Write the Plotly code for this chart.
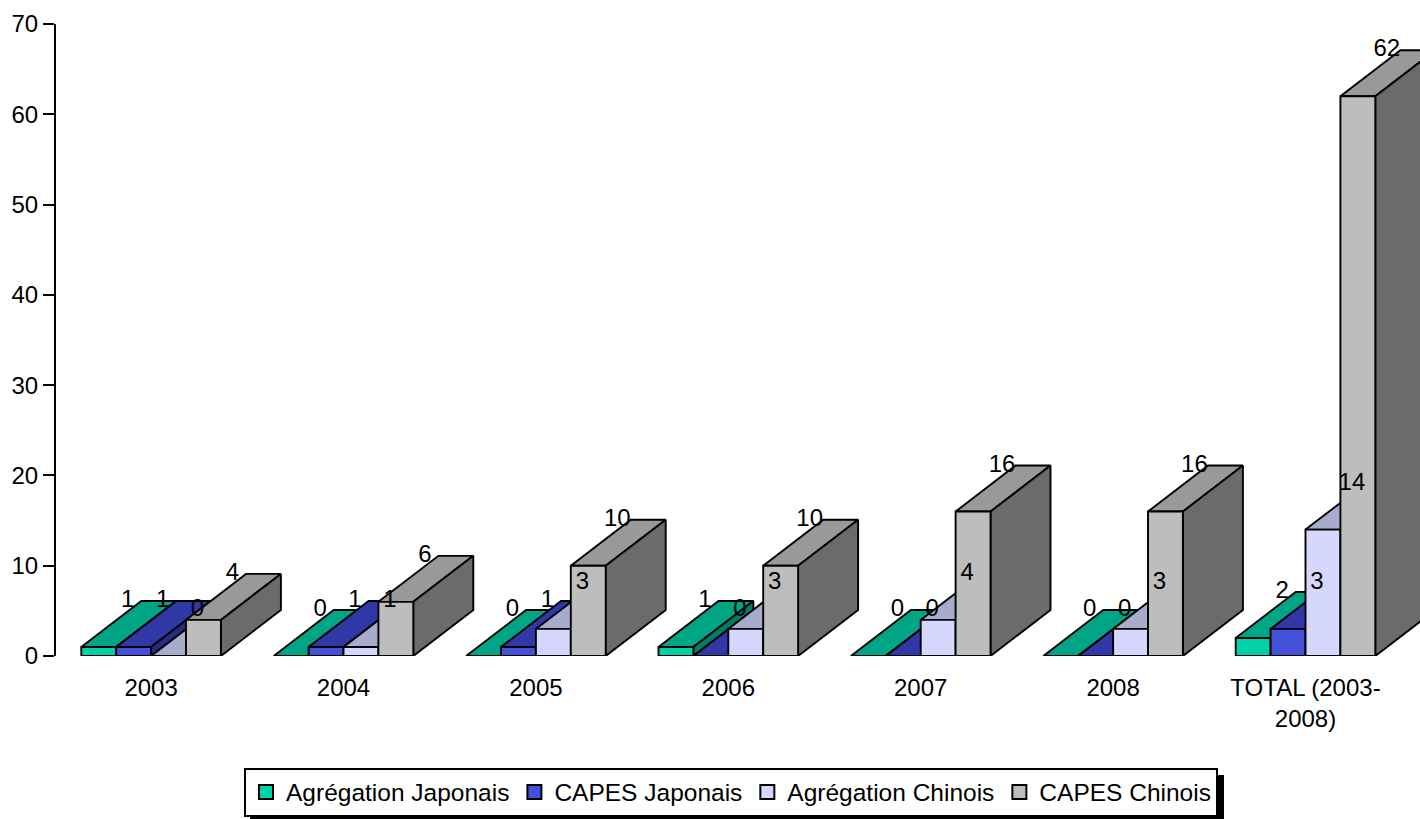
import plotly.graph_objects as go

categories = ["2003", "2004", "2005", "2006", "2007", "2008", "TOTAL (2003-<br>2008)"]
agregation_japonais = [1, 0, 0, 1, 0, 0, 2]
capes_japonais = [1, 1, 1, 0, 0, 0, 3]
agregation_chinois = [0, 1, 3, 3, 4, 3, 14]
capes_chinois = [4, 6, 10, 10, 16, 16, 62]
y_ticks = [0, 10, 20, 30, 40, 50, 60, 70]

series = [
    ("Agrégation Japonais", agregation_japonais, "#00D2A8", "#00A585", "#007F66"),
    ("CAPES Japonais", capes_japonais, "#4350D8", "#3038A8", "#262C85"),
    ("Agrégation Chinois", agregation_chinois, "#D5D8FC", "#A8ACCC", "#8488A0"),
    ("CAPES Chinois", capes_chinois, "#BCBEBE", "#999999", "#6B6B6B"),
]

W, H = 1420, 819
L, T, B = 56, 24, 656
PITCH = 192.4          # px per category
PX_Y = (B - T) / 70.0  # px per unit
BAR = 34.9 / PITCH
DX = 60 / PITCH
DY = 46 / PX_Y
C0 = 151.1             # px centre of first group
x_range = [(L - C0) / PITCH, (W - C0) / PITCH]
FONT = "Liberation Sans"
FS = 24

fig = go.Figure()
positions = list(range(len(categories)))
n = len(series)

for s, (name, vals, front, top, side) in enumerate(series):
    fx, fy, tx, ty, sx, sy = [], [], [], [], [], []
    for i, v in zip(positions, vals):
        x0 = i + (s - n / 2) * BAR
        x1 = x0 + BAR
        fx += [x0, x1, x1, x0, x0, None]
        fy += [0, 0, v, v, 0, None]
        tx += [x0, x1, x1 + DX, x0 + DX, x0, None]
        ty += [v, v, v + DY, v + DY, v, None]
        sx += [x1, x1 + DX, x1 + DX, x1, x1, None]
        sy += [0, DY, v + DY, v, 0, None]
    for xs, ys, col in ((tx, ty, top), (sx, sy, side), (fx, fy, front)):
        fig.add_trace(go.Scatter(x=xs, y=ys, mode="lines", fill="toself", fillcolor=col,
                                 line=dict(color="black", width=1.9), showlegend=False,
                                 hoverinfo="skip"))

for s, (name, vals, front, top, side) in enumerate(series):
    fig.add_trace(go.Scatter(
        x=[i + (s - n / 2 + 0.5) * BAR + 29 / PITCH for i in positions],
        y=[v + 46 / PX_Y for v in vals],
        text=[str(v) for v in vals], mode="text", textposition="middle center",
        textfont=dict(family=FONT, size=FS, color="black"),
        showlegend=False, hoverinfo="skip", cliponaxis=False))

for name, vals, front, top, side in series:
    fig.add_trace(go.Scatter(x=[None], y=[None], mode="markers", name=name,
                             marker=dict(symbol="square", size=14, color=front,
                                         line=dict(color="black", width=2))))

plot_h = B - T
plot_w = W - L
def px(x): return (x - L) / plot_w
def py(y): return (B - y) / plot_h

# legend drop shadow
fig.add_shape(type="rect", xref="paper", yref="paper", x0=px(250), x1=px(1224), y0=py(819), y1=py(775),
              fillcolor="black", line=dict(width=0), layer="below")

fig.update_layout(
    width=W, height=H, autosize=False,
    margin=dict(l=L, r=0, t=T, b=H - B, pad=0),
    paper_bgcolor="white", plot_bgcolor="white",
    font=dict(family=FONT, size=FS, color="black"),
    xaxis=dict(range=x_range, tickmode="array", tickvals=positions, ticktext=categories,
               showgrid=False, zeroline=False, showline=False, ticks="",
               ticklabelstandoff=15, tickfont=dict(family=FONT, size=FS)),
    yaxis=dict(range=[0, 70], tickmode="array", tickvals=y_ticks, showgrid=False, zeroline=False,
               showline=True, linecolor="black", linewidth=2, ticks="outside", ticklen=11,
               tickcolor="black", tickwidth=2, tickfont=dict(family=FONT, size=FS)),
    legend=dict(orientation="h", xanchor="left", yanchor="top", x=px(244), y=py(767.5),
                bgcolor="white", bordercolor="black", borderwidth=2,
                font=dict(family=FONT, size=24.5), itemclick=False, itemdoubleclick=False),
    hovermode=False,
)

fig.write_html("out.html", config={"displayModeBar": False},
               post_script="document.body.style.margin='0';document.body.style.overflow='hidden';")
